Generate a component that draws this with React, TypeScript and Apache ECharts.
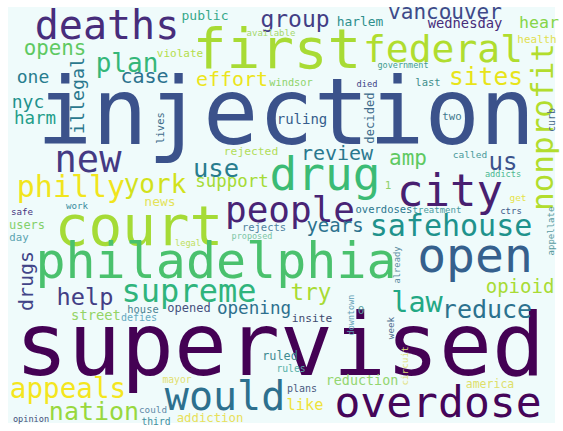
import React, { useEffect, useRef } from "react";
import * as echarts from "echarts";

// Words of the cloud and their relative weight (font size in px at this picture size)
const words = [
  "supervised", "injection", "first", "federal", "deaths", "court", "philadelphia", "open", "city", "drug",
  "people", "new", "overdose", "would", "supreme", "safehouse", "nonprofit", "philly", "york", "appeals",
  "nation", "use", "sites", "group", "vancouver", "plan", "case", "effort", "review", "amp",
  "us", "years", "help", "try", "law", "reduce", "opioid", "opening", "like", "support",
  "drugs", "illegal", "one", "nyc", "harm", "opens", "public", "harlem", "wednesday", "hear",
  "health", "violate", "available", "windsor", "died", "decided", "ruling", "government", "last", "two",
  "curb", "lives", "rejected", "news", "work", "safe", "users", "day", "legal", "rejects",
  "proposed", "called", "addicts", "get", "ctrs", "treatment", "overdoses", "already", "appellate", "1",
  "street", "defies", "house", "opened", "insite", "downtown", "0", "ruled", "rules", "plans",
  "reduction", "mayor", "addiction", "could", "third", "opinion", "week", "circuit", "america",
];

const weights = [
  88, 92, 56, 38, 40, 56, 50, 48, 44, 46,
  36, 37, 43, 40, 32, 30, 31, 30, 26, 27.6,
  25, 25.5, 24.6, 23, 21, 26, 20, 20, 20, 21,
  24, 19, 23.6, 22.6, 28.5, 25, 19, 17.6, 15.3, 17.4,
  20, 18.3, 18, 18, 17.5, 20.8, 13, 12.9, 13.8, 16.6,
  10.9, 11, 9, 10.3, 8.7, 12.2, 14, 8.5, 10.5, 10.7,
  10, 10.4, 11.3, 13, 9.2, 9.2, 12, 10.7, 8.7, 10.5,
  8.5, 9.5, 8.6, 9.5, 9, 9, 10.5, 8.8, 9, 11,
  13.8, 10, 10.4, 12, 11.2, 8.5, 11, 11.8, 9.7, 10,
  13.4, 9.7, 12.3, 9.3, 9.7, 8.6, 9.3, 9.3, 11.5,
];

// Layout of the cloud (word centre in pixels, 1 = rotated bottom-to-top)
const layoutX = [
  280, 286, 277, 443, 107, 139, 216, 475, 450, 325,
  290, 88, 438, 225, 189, 451, 542, 71, 155, 68,
  94, 216, 486, 295, 445, 127, 144.5, 232, 337, 408,
  503, 335, 85, 311, 417, 487, 520, 254, 305, 232,
  26, 77, 33, 28, 35, 55, 205, 360, 465, 539,
  537, 180, 271, 291, 367, 370, 302, 403, 428, 452,
  551, 160, 251, 160, 77, 22, 27, 19, 188, 264,
  252, 470, 503, 518, 511, 437, 384, 397, 551, 388,
  96, 139, 143, 189, 312, 351, 361, 280, 291, 302,
  362, 177, 210, 153, 156, 31, 390, 404, 490,
];
const layoutY = [
  344, 112, 48, 49, 25, 225, 261, 255, 190, 174,
  209, 159, 402, 396, 291, 225, 127, 186.5, 184, 388,
  411, 168, 76, 19, 12, 63, 76, 79, 153, 158,
  162, 225, 297, 292, 302, 309, 286, 308, 405, 181,
  281, 95.5, 76, 101, 118, 48, 15, 21.5, 23, 22,
  39, 53, 33, 82, 84, 118, 119, 65, 82, 116,
  120, 128, 151, 201.5, 205, 211, 225, 237, 243, 227,
  236, 154, 174, 197, 211, 210, 209, 265, 231, 185,
  315, 317.5, 309, 308, 318, 315, 310, 356, 368, 388,
  380, 379, 418, 409, 421, 419, 328, 366, 384,
];
const rotated = [
  0, 0, 0, 0, 0, 0, 0, 0, 0, 0,
  0, 0, 0, 0, 0, 0, 1, 0, 0, 0,
  0, 0, 0, 0, 0, 0, 0, 0, 0, 0,
  0, 0, 0, 0, 0, 0, 0, 0, 0, 0,
  1, 1, 0, 0, 0, 0, 0, 0, 0, 0,
  0, 0, 0, 0, 0, 1, 0, 0, 0, 0,
  1, 1, 0, 0, 0, 0, 0, 0, 0, 0,
  0, 0, 0, 0, 0, 0, 0, 1, 1, 0,
  0, 0, 0, 0, 0, 1, 0, 0, 0, 0,
  0, 0, 0, 0, 0, 0, 1, 1, 0,
];
const colors = [
  "#440154", "#3b528b", "#a8db34", "#b0dd2f", "#472d7b", "#a5db36", "#4ac16d", "#35608d", "#481f70", "#3bbb75",
  "#482475", "#443a83", "#450559", "#2d708e", "#2fb47c", "#20928c", "#b2dd2d", "#f1e51d", "#d2e21b", "#f4e61e",
  "#98d83e", "#287d8e", "#e8e419", "#433e85", "#3e4a89", "#35b779", "#2c728e", "#ece51b", "#2a788e", "#5ec962",
  "#3b528b", "#2c728e", "#433e85", "#a8db34", "#22a884", "#2c728e", "#a8db34", "#2d708e", "#efe33b", "#a5db36",
  "#414487", "#2a788e", "#287d8e", "#21918c", "#1f9e89", "#5ec962", "#35a88a", "#2e8f8c", "#472c7a", "#86d549",
  "#e2df50", "#b5de4b", "#a5d86b", "#8ed36a", "#414487", "#3e6a8a", "#365d8d", "#3f9b8f", "#3f8f8c", "#3f788d",
  "#4a6a8a", "#3e6c8a", "#b2dd5a", "#e4e35a", "#3d8da0", "#46337e", "#84d06a", "#5ba3b0", "#bfe05a", "#4f82a0",
  "#7cc5a5", "#4a9a9a", "#4cb890", "#e6e34a", "#3e5a8a", "#4a9aa0", "#2a768e", "#5a8aa0", "#5a9aa0", "#8fd16a",
  "#94d466", "#63a9c0", "#4a8090", "#46507e", "#3e4a6f", "#5f9db5", "#5aa0a0", "#3f8a90", "#57b0a8", "#4a5a80",
  "#94d670", "#e2df70", "#e8e05a", "#5f8aa8", "#3f8f9f", "#45507a", "#4f6f90", "#dfe07a", "#dedf6a",
];

const W = 563;
const H = 431;
const BG = { left: 8, top: 7, right: 555, bottom: 423 };

export default function App() {
  const ref = useRef<HTMLDivElement>(null);
  useEffect(() => {
    if (!ref.current) return;
    const chart = echarts.init(ref.current, undefined, { renderer: "svg" });
    const data = words.map((_, i) => [layoutX[i], layoutY[i], i]);
    chart.setOption({
      animation: false,
      backgroundColor: "#ffffff",
      grid: {
        left: BG.left,
        top: BG.top,
        width: BG.right - BG.left,
        height: BG.bottom - BG.top,
        show: true,
        backgroundColor: "#effbfb",
        borderWidth: 0,
      },
      xAxis: { type: "value", min: BG.left, max: BG.right, show: false },
      yAxis: { type: "value", min: BG.top, max: BG.bottom, inverse: true, show: false },
      series: [
        {
          type: "custom",
          coordinateSystem: "cartesian2d",
          clip: false,
          data,
          renderItem: (_params: any, api: any) => {
            const i = api.value(2);
            const p = api.coord([api.value(0), api.value(1)]);
            return {
              type: "text",
              x: p[0],
              y: p[1],
              rotation: rotated[i] ? Math.PI / 2 : 0,
              style: {
                text: words[i],
                fontSize: weights[i],
                fontFamily: "'DejaVu Sans Mono', monospace",
                fill: colors[i],
                align: "center",
                verticalAlign: "middle",
              },
            };
          },
        },
      ],
    });
    return () => chart.dispose();
  }, []);
  return (
    <div
      ref={ref}
      style={{ position: "absolute", left: 0, top: 0, width: W, height: H }}
    />
  );
}
